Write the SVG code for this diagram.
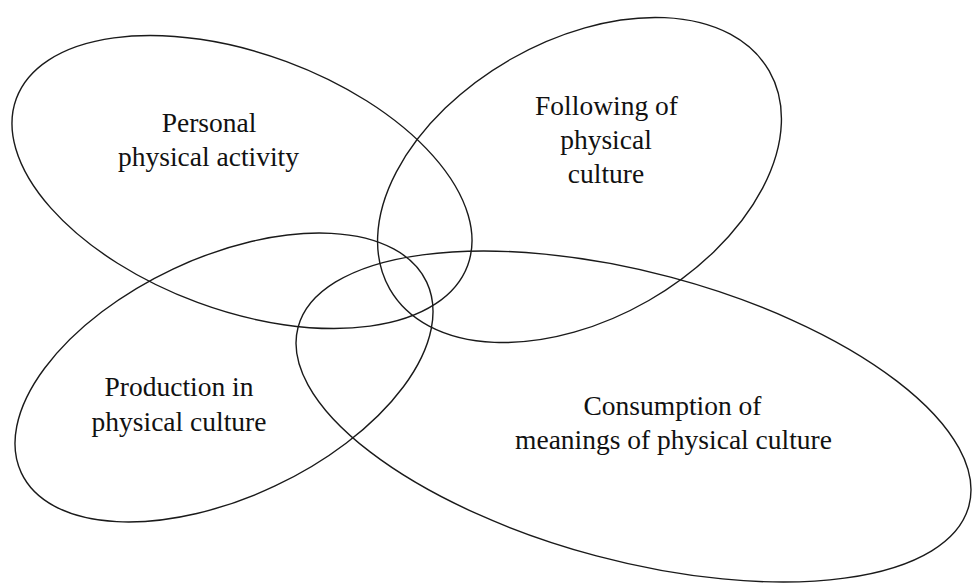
<svg xmlns="http://www.w3.org/2000/svg" width="972" height="583" viewBox="0 0 972 583">
  <style>
    .ring { fill: none; stroke: #1a1a1a; stroke-width: 1.4; }
    .label { font-family: "Liberation Serif", "Times New Roman", serif; font-size: 27.5px; fill: #111; text-anchor: middle; }
  </style>
  <rect width="972" height="583" fill="#ffffff"/>

  <!-- Personal physical activity -->
  <g id="personal">
    <ellipse class="ring" cx="242" cy="182" rx="240.6" ry="128.4" transform="rotate(20.3 242 182)"/>
    <text class="label" x="209" y="131.5">Personal</text>
    <text class="label" x="208.5" y="165.5">physical activity</text>
  </g>

  <!-- Following of physical culture -->
  <g id="following">
    <ellipse class="ring" cx="579.5" cy="180" rx="218.8" ry="139" transform="rotate(-29.9 579.5 180)"/>
    <text class="label" x="606.5" y="115">Following of</text>
    <text class="label" x="606" y="149">physical</text>
    <text class="label" x="606" y="183">culture</text>
  </g>

  <!-- Production in physical culture -->
  <g id="production">
    <ellipse class="ring" cx="224" cy="377.5" rx="224" ry="119.9" transform="rotate(-25.2 224 377.5)"/>
    <text class="label" x="179" y="396">Production in</text>
    <text class="label" x="179" y="431">physical culture</text>
  </g>

  <!-- Consumption of meanings of physical culture -->
  <g id="consumption">
    <ellipse class="ring" cx="633.5" cy="416.5" rx="347.1" ry="144.2" transform="rotate(14.9 633.5 416.5)"/>
    <text class="label" x="672.5" y="415">Consumption of</text>
    <text class="label" x="673.5" y="449">meanings of physical culture</text>
  </g>

  <g id="connectors"></g>
</svg>
